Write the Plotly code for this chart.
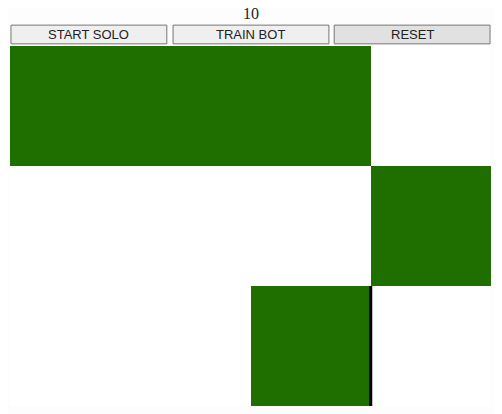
import plotly.graph_objects as go

# game board state: 1 = filled cell
board = [
    [1, 1, 1, 0],
    [0, 0, 0, 1],
    [0, 0, 1, 0],
]
score = 10
button_labels = ["START SOLO", "TRAIN BOT", "RESET"]
cursor_cell = (2, 2)  # cell with dark right edge

fig = go.Figure(
    go.Heatmap(
        z=board,
        colorscale=[[0, "#ffffff"], [1, "#1f6e00"]],
        zmin=0,
        zmax=1,
        showscale=False,
        hoverinfo="skip",
    )
)

row, col = cursor_cell
fig.add_shape(type="line", x0=col + 0.5, x1=col + 0.5, y0=row - 0.5, y1=row + 0.5,
              line=dict(color="black", width=3))

# buttons drawn in paper space
btn_x = [(0.002, 0.326), (0.339, 0.663), (0.674, 0.998)]
btn_fill = ["#efefef", "#efefef", "#e1e1e1"]
for (x0, x1), label, fill in zip(btn_x, button_labels, btn_fill):
    fig.add_shape(type="rect", xref="paper", yref="paper", x0=x0, x1=x1, y0=1.006, y1=1.058,
                  fillcolor=fill, line=dict(color="#767676", width=1))
    fig.add_annotation(text=label, xref="paper", yref="paper", x=(x0 + x1) / 2, y=1.032,
                       xanchor="center", yanchor="middle", showarrow=False,
                       font=dict(family="Liberation Sans", size=13, color="#222"))

fig.add_annotation(text=str(score), xref="paper", yref="paper", x=0.5, y=1.09,
                   xanchor="center", yanchor="middle", showarrow=False,
                   font=dict(family="Liberation Serif", size=16, color="#222"))

fig.update_xaxes(visible=False, range=[-0.5, 3.5], fixedrange=True)
fig.update_yaxes(visible=False, range=[2.5, -0.5], fixedrange=True)
fig.update_layout(
    width=494,
    height=406,
    margin=dict(l=2, r=11, t=38, b=8),
    paper_bgcolor="#fdfdfd",
    plot_bgcolor="#ffffff",
)
fig.write_html("out.html", config={"displayModeBar": False})
